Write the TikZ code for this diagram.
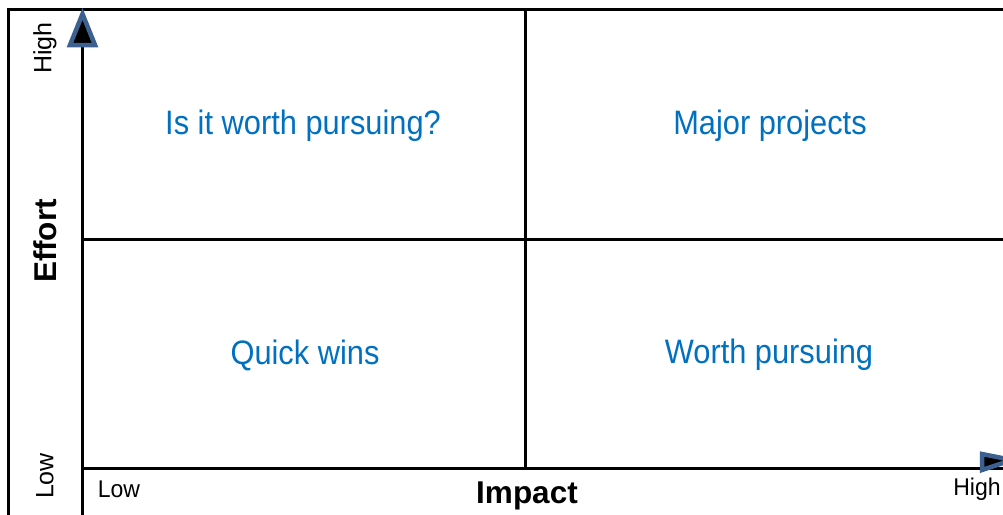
\documentclass[tikz,border=0pt]{standalone}
\usepackage{fontspec}
\setmainfont{Liberation Sans}
\definecolor{qblue}{HTML}{0070C0}
\definecolor{arrblue}{HTML}{3C6190}
\begin{document}
\begin{tikzpicture}[x=1pt,y=-1pt,
  frame/.style={line width=3pt,black},
  quad/.style={text=qblue,font=\fontsize{30.8}{36}\selectfont,anchor=center,inner sep=0pt,yscale=1.1},
  small/.style={font=\fontsize{23}{27}\selectfont,inner sep=0pt,anchor=center,yscale=1.05},
  rsmall/.style={font=\fontsize{25}{29}\selectfont,inner sep=0pt,anchor=center,rotate=90},
  axislbl/.style={font=\bfseries\fontsize{31.5}{36}\selectfont,inner sep=0pt,anchor=center},
  tip/.style={draw=arrblue,fill=black,line width=4.5pt,line join=miter}]
\useasboundingbox (0,0) rectangle (1003,514);
\clip (0,0) rectangle (1003,514);
\fill[white] (0,0) rectangle (1003,514);
% named coordinates
\coordinate (tl) at (8.5,9.5);
\coordinate (bl) at (8.5,520);
\coordinate (tr) at (1010,9.5);
\coordinate (ax) at (82.5,520);
\coordinate (ay) at (82.5,40);
\coordinate (o) at (82.5,468);
\coordinate (xr) at (1010,468);
\coordinate (mt) at (525.5,9.5);
\coordinate (mb) at (525.5,468);
\coordinate (ml) at (82.5,239);
\coordinate (mr) at (1010,239);
% frame and grid
\draw[frame] (bl) -- (tl) -- (tr);
\draw[frame] (ax) -- (ay);
\draw[frame] (o) -- (xr);
\draw[frame] (mt) -- (mb);
\draw[frame] (ml) -- (mr);
% arrowheads
\draw[tip] (82.5,14) -- (95,45) -- (70,45) -- cycle;
\draw[tip] (1012,460) -- (982,470) -- (982,454) -- cycle;
% quadrant texts
\node[quad] (q1) at (303,126) {Is it worth pursuing?};
\node[quad] (q2) at (770,126) {Major projects};
\node[quad] (q3) at (305,355) {Quick wins};
\node[quad] (q4) at (769,355) {Worth pursuing};
% axis labels
\node[small] (xlow) at (119,489) {Low};
\node[small] (xhigh) at (977,489) {High};
\node[axislbl] (xl) at (527,496) {Impact};
\node[rsmall] (yhigh) at (45,48) {High};
\node[rsmall] (ylow) at (45,476) {Low};
\node[axislbl,rotate=90] (yl) at (45,241) {Effort};
\end{tikzpicture}
\end{document}
